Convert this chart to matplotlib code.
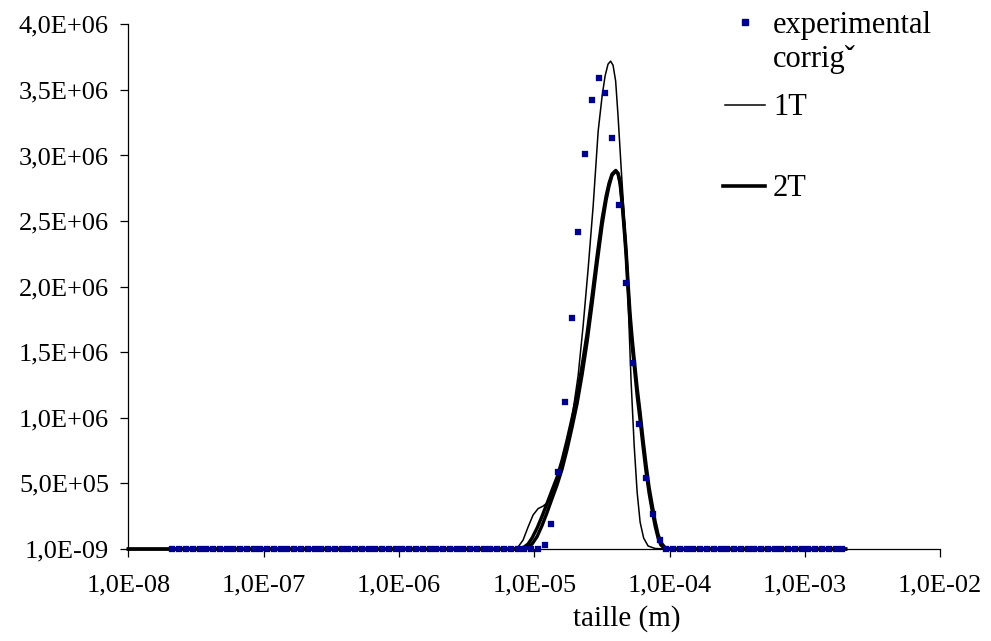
import matplotlib
matplotlib.use("Agg")
import matplotlib.pyplot as plt
from matplotlib.lines import Line2D
from matplotlib.ticker import FixedLocator, FuncFormatter, NullLocator
import numpy as np

plt.rcParams['font.family'] = ['Liberation Serif', 'DejaVu Serif']

# size classes of the granulometer: 100 log bins between 0.02 um and 2000 um (bin centres)
bin_edges = np.logspace(np.log10(2e-8), np.log10(2e-3), 101)
exp_size = np.sqrt(bin_edges[:-1] * bin_edges[1:])

# experimental distribution (corrected), per class
exp_peak = [0.03e6, 0.19e6, 0.59e6, 1.12e6, 1.76e6, 2.42e6, 3.01e6, 3.42e6, 3.59e6,
            3.48e6, 3.135e6, 2.62e6, 2.03e6, 1.42e6, 0.955e6, 0.54e6, 0.265e6, 0.065e6]
exp_val = [0.0] * 55 + exp_peak + [0.0] * 27

# model 1T
t1_size = [1.0e-8, 6.86e-6, 7.58e-6, 8.26e-6, 8.99e-6, 9.79e-6, 1.067e-5, 1.161e-5, 1.265e-5,
           1.377e-5, 1.500e-5, 1.633e-5, 1.778e-5, 1.936e-5, 2.109e-5, 2.296e-5, 2.500e-5,
           2.723e-5, 2.965e-5, 3.170e-5, 3.334e-5, 3.506e-5, 3.664e-5, 3.819e-5, 3.992e-5,
           4.159e-5, 4.375e-5, 4.688e-5, 4.932e-5, 5.188e-5, 5.470e-5, 5.754e-5, 6.053e-5,
           6.427e-5, 6.934e-5, 7.816e-5, 9.75e-5, 2.0e-3]
t1_val = [0.0, 0.0, 0.015e6, 0.068e6, 0.167e6, 0.259e6, 0.308e6, 0.327e6, 0.357e6,
          0.426e6, 0.525e6, 0.662e6, 0.844e6, 1.057e6, 1.323e6, 1.703e6, 2.137e6,
          2.616e6, 3.186e6, 3.452e6, 3.605e6, 3.696e6, 3.719e6, 3.688e6, 3.567e6,
          3.300e6, 2.920e6, 2.426e6, 1.894e6, 1.285e6, 0.791e6, 0.433e6, 0.205e6,
          0.084e6, 0.023e6, 0.004e6, 0.0, 0.0]

# model 2T (two runs, nearly superposed)
t2_size = [1.0e-8, 7.58e-6, 8.41e-6, 8.99e-6, 9.63e-6, 1.049e-5, 1.142e-5, 1.244e-5, 1.353e-5,
           1.474e-5, 1.605e-5, 1.747e-5, 1.903e-5, 2.072e-5, 2.256e-5, 2.456e-5, 2.674e-5,
           2.912e-5, 3.170e-5, 3.395e-5, 3.572e-5, 3.758e-5, 4.002e-5, 4.159e-5, 4.306e-5,
           4.455e-5, 4.610e-5, 4.770e-5, 4.932e-5, 5.105e-5, 5.282e-5, 5.470e-5, 5.754e-5,
           6.053e-5, 6.370e-5, 6.703e-5, 7.054e-5, 7.42e-5, 7.816e-5, 8.22e-5, 8.62e-5,
           9.23e-5, 1.009e-4, 2.0e-3]
t2_val = [0.0, 0.0, 0.015e6, 0.038e6, 0.084e6, 0.160e6, 0.251e6, 0.350e6, 0.449e6,
          0.548e6, 0.677e6, 0.829e6, 0.996e6, 1.171e6, 1.399e6, 1.643e6, 1.932e6,
          2.236e6, 2.517e6, 2.692e6, 2.791e6, 2.859e6, 2.886e6, 2.859e6, 2.783e6,
          2.631e6, 2.443e6, 2.236e6, 1.970e6, 1.726e6, 1.551e6, 1.399e6, 1.171e6,
          0.981e6, 0.776e6, 0.586e6, 0.426e6, 0.297e6, 0.175e6, 0.084e6, 0.030e6,
          0.004e6, 0.0, 0.0]
t2b_val = [0.0, 0.0, 0.004e6, 0.015e6, 0.038e6, 0.095e6, 0.18e6, 0.28e6, 0.385e6,
           0.49e6, 0.61e6, 0.76e6, 0.93e6, 1.11e6, 1.33e6, 1.58e6, 1.87e6,
           2.18e6, 2.47e6, 2.66e6, 2.77e6, 2.85e6, 2.88e6, 2.865e6, 2.80e6,
           2.66e6, 2.48e6, 2.28e6, 2.03e6, 1.79e6, 1.61e6, 1.45e6, 1.23e6,
           1.04e6, 0.83e6, 0.64e6, 0.47e6, 0.34e6, 0.21e6, 0.11e6, 0.05e6,
           0.012e6, 0.0, 0.0]

x_ticks = [1e-8, 1e-7, 1e-6, 1e-5, 1e-4, 1e-3, 1e-2]
y_ticks = [1e-9, 0.5e6, 1.0e6, 1.5e6, 2.0e6, 2.5e6, 3.0e6, 3.5e6, 4.0e6]


def excel_sci(v, pos=None):
    e = int(np.floor(np.log10(v) + 1e-9))
    m = v / 10.0 ** e
    return f"{m:.1f}".replace('.', ',') + f"E{e:+03d}"


fig = plt.figure(figsize=(9.91, 6.41), dpi=100)
ax = fig.add_axes([0.1295, 0.1435, 0.8193, 0.8186])

ax.plot(t2_size, t2b_val, color='black', lw=2.4, clip_on=False, zorder=2)
ax.plot(t2_size, t2_val, color='black', lw=2.4, clip_on=False, zorder=2)
ax.plot(t1_size, t1_val, color='black', lw=1.1, clip_on=False, zorder=3)
ax.plot(exp_size, exp_val, ls='none', marker='s', ms=5.0, color='#000090',
        mec='#000090', mew=0.2, clip_on=False, zorder=4)

ax.set_xscale('log')
ax.set_xlim(1e-8, 1e-2)
ax.set_ylim(1e-9, 4e6)
ax.xaxis.set_major_locator(FixedLocator(x_ticks))
ax.xaxis.set_minor_locator(NullLocator())
ax.xaxis.set_major_formatter(FuncFormatter(excel_sci))
ax.yaxis.set_major_locator(FixedLocator(y_ticks))
ax.yaxis.set_major_formatter(FuncFormatter(excel_sci))

for side in ['top', 'right']:
    ax.spines[side].set_visible(False)
for side in ['left', 'bottom']:
    ax.spines[side].set_linewidth(0.9)

ax.tick_params(axis='both', direction='out', length=6, width=0.9, labelsize=19)
ax.tick_params(axis='y', pad=8)
ax.tick_params(axis='x', pad=12)

ax.set_xlabel('taille (m)', fontsize=21)
ax.xaxis.set_label_coords(0.614, -0.107)

# legend, drawn by hand like the original layout
fig.add_artist(Line2D([745 / 991], [1 - 22 / 641], marker='s', ms=4.4, color='#000090',
                      transform=fig.transFigure))
fig.text(773 / 991, 1 - 33 / 641, 'experimental', fontsize=22, va='baseline')
fig.text(773 / 991, 1 - 67 / 641, 'corrig\u02c7', fontsize=22, va='baseline')
fig.add_artist(Line2D([725 / 991, 765 / 991], [1 - 105 / 641] * 2, color='black', lw=1.1,
                      transform=fig.transFigure))
fig.text(773 / 991, 1 - 115 / 641, '1T', fontsize=22, va='baseline')
fig.add_artist(Line2D([723 / 991, 765 / 991], [1 - 186 / 641] * 2, color='black', lw=2.6,
                      transform=fig.transFigure))
fig.text(773 / 991, 1 - 196 / 641, '2T', fontsize=22, va='baseline')

fig.savefig('out.png', dpi=100)
